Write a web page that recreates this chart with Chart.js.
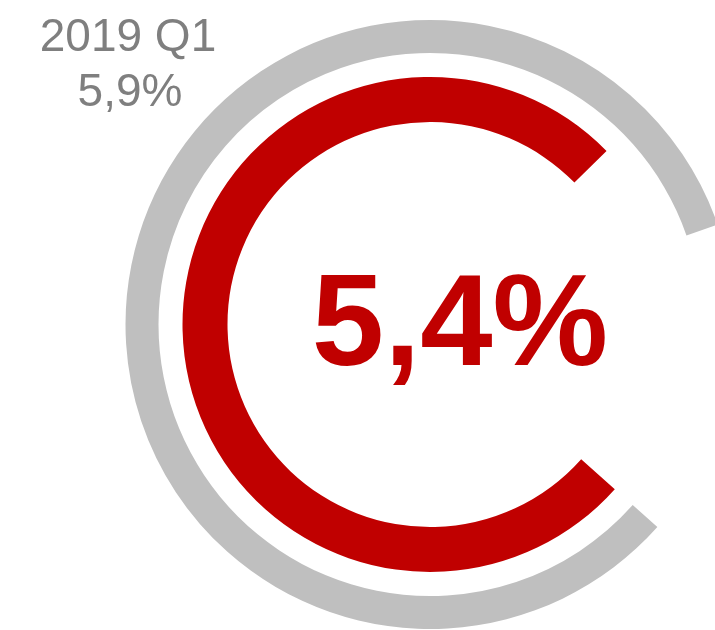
<!DOCTYPE html>
<html>
<head>
<meta charset="utf-8">
<style>
    html, body { margin: 0; padding: 0; background: #fff; }
    #rateChart { display: block; }
</style>
<script src="https://cdn.jsdelivr.net/npm/chart.js@4.4.1/dist/chart.umd.min.js"></script>
</head>
<body>
<canvas id="rateChart" width="715" height="630"></canvas>
<script>
// ring values (percent), outer ring = previous period, inner ring = current
const periods = ['2019 Q1', 'current'];
const values = [5.9, 5.4];
const ringColors = ['#BFBFBF', '#C00000'];
const scaleMax = 7.1;

function fmt(v) {
    return v.toFixed(1).replace('.', ',') + '%';
}

const centerText = {
    id: 'centerText',
    afterDraw(chart) {
        const ctx = chart.ctx;
        ctx.save();
        ctx.textAlign = 'center';
        ctx.textBaseline = 'alphabetic';

        // big current value
        ctx.fillStyle = '#C00000';
        ctx.font = 'bold 130px "Liberation Sans", Arial, sans-serif';
        ctx.fillText(fmt(values[1]), 460, 365);

        // previous period label
        ctx.fillStyle = '#7F7F7F';
        ctx.font = '46px "Liberation Sans", Arial, sans-serif';
        ctx.fillText(periods[0], 128, 51);
        ctx.fillText(fmt(values[0]), 130, 106);
        ctx.restore();
    }
};

document.addEventListener('DOMContentLoaded', function () {
    const canvas = document.getElementById('rateChart');

    const ring = (i, weight) => ({
        label: periods[i],
        data: [values[i], scaleMax - values[i]],
        backgroundColor: [ringColors[i], 'rgba(0,0,0,0)'],
        borderWidth: 0,
        weight: weight
    });

    new Chart(canvas.getContext('2d'), {
        type: 'doughnut',
        data: {
            labels: ['value', 'rest'],
            datasets: [
                ring(0, 33),
                { data: [scaleMax], backgroundColor: ['rgba(0,0,0,0)'], borderWidth: 0, weight: 24 },
                ring(1, 45)
            ]
        },
        options: {
            responsive: false,
            animation: false,
            events: [],
            rotation: 131.7,
            circumference: 360,
            radius: 304.5,
            cutout: '66.5%',
            hoverOffset: 0,
            layout: { padding: { left: 145, right: 0, top: 19, bottom: 0 } },
            plugins: {
                legend: { display: false },
                tooltip: { enabled: false }
            }
        },
        plugins: [centerText]
    });
});
</script>
</body>
</html>
